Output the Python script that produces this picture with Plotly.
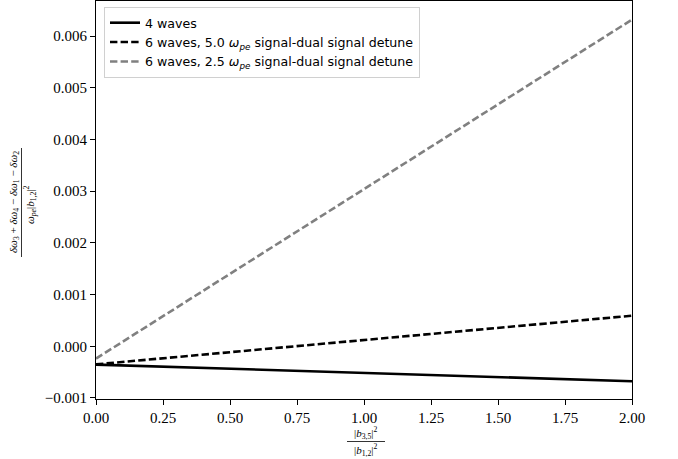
import plotly.graph_objects as go

# ---- data ----
x_vals = [0.0, 2.0]
four_waves = [-0.000354, -0.000676]
six_waves_50 = [-0.000350, 0.000592]
six_waves_25 = [-0.000238, 0.006320]

x_ticks = [0.0, 0.25, 0.5, 0.75, 1.0, 1.25, 1.5, 1.75, 2.0]
x_ticktext = ["0.00", "0.25", "0.50", "0.75", "1.00", "1.25", "1.50", "1.75", "2.00"]
y_ticks = [-0.001, 0.0, 0.001, 0.002, 0.003, 0.004, 0.005, 0.006]
y_ticktext = ["\u22120.001", "0.000", "0.001", "0.002", "0.003", "0.004", "0.005", "0.006"]

names = [
    "4 waves",
    "6 waves, 5.0 <i>\u03c9</i><sub><i>pe</i></sub> signal-dual signal detune",
    "6 waves, 2.5 <i>\u03c9</i><sub><i>pe</i></sub> signal-dual signal detune",
]

W, H = 678, 459
L, R, T, B = 96, 46, 1, 60
pw, ph = W - L - R, H - T - B


def px2x(px):
    return (px - L) / pw


def px2y(py):
    return (H - B - py) / ph


fig = go.Figure()
fig.add_trace(go.Scatter(x=x_vals, y=four_waves, mode="lines", name=names[0],
                         line=dict(color="black", width=2.6)))
fig.add_trace(go.Scatter(x=x_vals, y=six_waves_50, mode="lines", name=names[1],
                         line=dict(color="black", width=2.6, dash="7.4px,3.2px")))
fig.add_trace(go.Scatter(x=x_vals, y=six_waves_25, mode="lines", name=names[2],
                         line=dict(color="#808080", width=2.6, dash="7.4px,3.2px")))

serif = "Liberation Serif"
axis_common = dict(
    showline=True, linecolor="black", linewidth=1, mirror=True,
    ticks="outside", ticklen=5, tickwidth=1, tickcolor="black",
    showgrid=False, zeroline=False,
    tickfont=dict(family=serif, size=15, color="black"),
)

fig.update_layout(
    width=W, height=H,
    margin=dict(l=L, r=R, t=T, b=B),
    paper_bgcolor="white", plot_bgcolor="white",
    xaxis=dict(range=[0, 2], tickvals=x_ticks, ticktext=x_ticktext, **axis_common),
    yaxis=dict(range=[-0.00102, 0.00668], tickvals=y_ticks, ticktext=y_ticktext, **axis_common),
    showlegend=True,
    legend=dict(x=px2x(104), y=px2y(7), xanchor="left", yanchor="top",
                bgcolor="rgba(255,255,255,0.8)", bordercolor="#d0d0d0", borderwidth=1,
                font=dict(family="DejaVu Sans", size=12.6, color="black"),
                tracegroupgap=0, itemwidth=30),
)

# x-axis label as a stacked fraction
lab_font = dict(family=serif, size=11, color="black")
fig.add_annotation(xref="paper", yref="paper", x=px2x(366), y=px2y(433),
                   text="|<i>b</i><sub>3,5</sub>|<sup>2</sup>", showarrow=False,
                   font=lab_font, xanchor="center", yanchor="middle")
fig.add_annotation(xref="paper", yref="paper", x=px2x(366), y=px2y(450),
                   text="|<i>b</i><sub>1,2</sub>|<sup>2</sup>", showarrow=False,
                   font=lab_font, xanchor="center", yanchor="middle")
fig.add_shape(type="line", xref="paper", yref="paper",
              x0=px2x(347), x1=px2x(385), y0=px2y(441.5), y1=px2y(441.5),
              line=dict(color="black", width=0.8))

# y-axis label as a stacked fraction (rotated)
fig.add_annotation(xref="paper", yref="paper", x=px2x(14), y=px2y(202),
                   text="<i>\u03b4\u03c9</i><sub>3</sub> + <i>\u03b4\u03c9</i><sub>4</sub> \u2212 "
                        "<i>\u03b4\u03c9</i><sub>1</sub> \u2212 <i>\u03b4\u03c9</i><sub>2</sub>",
                   showarrow=False, textangle=-90, font=lab_font,
                   xanchor="center", yanchor="middle")
fig.add_annotation(xref="paper", yref="paper", x=px2x(30), y=px2y(205),
                   text="<i>\u03c9</i><sub><i>pe</i></sub>|<i>b</i><sub>1,2</sub>|<sup>2</sup>",
                   showarrow=False, textangle=-90, font=lab_font,
                   xanchor="center", yanchor="middle")
fig.add_shape(type="line", xref="paper", yref="paper",
              x0=px2x(21.5), x1=px2x(21.5), y0=px2y(148), y1=px2y(257),
              line=dict(color="black", width=0.8))

fig.write_html("out.html")
